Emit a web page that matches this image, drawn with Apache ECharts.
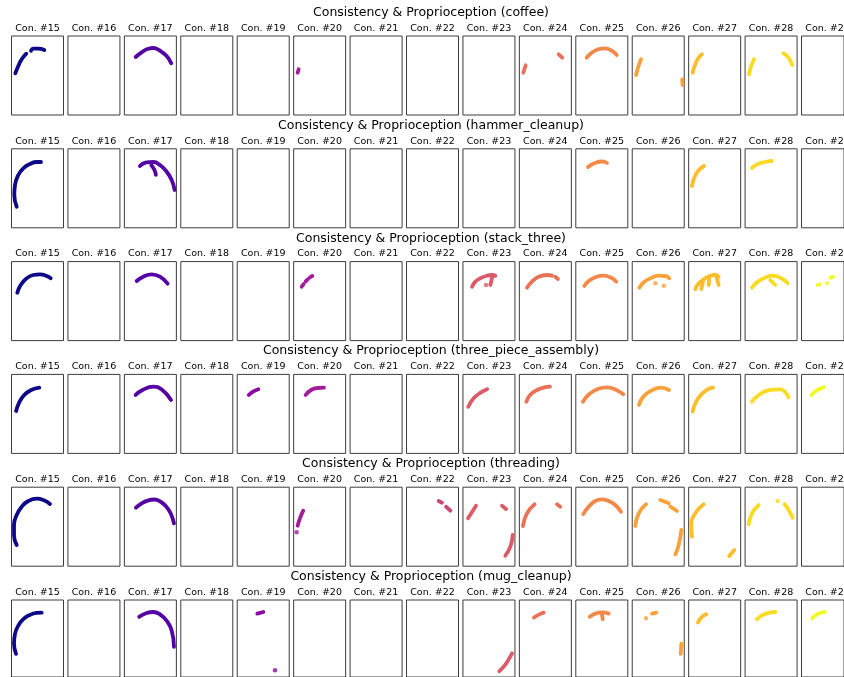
<!DOCTYPE html>
<html><head><meta charset="utf-8">
<script src="https://cdn.jsdelivr.net/npm/echarts@6/dist/echarts.min.js"></script>
<style>html,body{margin:0;padding:0;background:#fff}#chart{width:844px;height:677px}</style>
</head><body><div id="chart"></div>
<script>
const tasks = ['coffee','hammer_cleanup','stack_three','three_piece_assembly','threading','mug_cleanup'];
const conIds = [15,16,17,18,19,20,21,22,23,24,25,26,27,28,29];
const conColors = ['#0d0887','#330597','#5402a3','#7000a8','#8b0aa5','#a21d9a','#b83289','#cc4778','#db5c68','#e97158','#f48849','#fba139','#febd2a','#f8db24','#f0f921'];

// strokes: [con id, [[x, y], ...]]  (x: 0..52 across panel, y: 0..79 downward)
const coffee = [
 [15, [[3.8,37.3],[6.8,30],[10.2,23.3],[14.8,17.7]]],
 [15, [[19.5,14.7],[21.8,12.7],[26.8,12.7],[32.8,14]]],
 [17, [[11.3,21],[17.3,16.3],[23.9,12.7],[28.9,12],[35.6,14.7],[42.3,20],[46.9,27.3]]],
 [20, [[4,36.7],[5,33.3]]],
 [24, [[3.9,36.7],[6.3,29.3]]],
 [24, [[39.3,18.3],[42.9,21.7]]],
 [25, [[10.9,21.7],[15.9,16.7],[22.5,13.3],[29.2,12.3],[35.9,14.7],[40.9,19]]],
 [26, [[3.8,39],[6.1,30.7],[8.8,23.3]]],
 [26, [[50,43.3],[50.3,49]]],
 [27, [[4,36.7],[6.3,29],[9.6,22.3],[13.3,18.3]]],
 [28, [[3.9,38.3],[5.9,30.7],[8.9,23.3]]],
 [28, [[38.2,17.3],[43.2,21.3],[47.2,29]]]
];
const hammer = [
 [15, [[5.2,57.9],[2.8,46.2],[3.5,36.2],[6.8,26.2],[11.8,19.5],[18.5,15.2],[25.2,13.2],[29.5,13.2]]],
 [17, [[15.6,17.2],[22.3,13.5],[28.9,13.2],[35.6,16.2],[42.3,22.9],[47.3,31.2],[50.3,41.2]]],
 [17, [[27,16.5],[30,21],[31.5,26]]],
 [25, [[12.2,18.2],[19.2,14.2],[26.2,12.7],[31.2,14.2]]],
 [27, [[3.3,37.2],[6.3,27.2],[10.3,21.2],[15.3,17.2]]],
 [28, [[6.9,19.2],[12.9,15.2],[19.9,13.2],[26.9,12.2]]]
];
const stack = [
 [15, [[5.8,31.1],[9.2,23.4],[15.2,16.7],[21.8,13.4],[28.5,12.7],[35.2,14.4],[39.2,16.7]]],
 [17, [[12.3,19.4],[18.9,15.1],[27.3,12.7],[35.6,15.1],[43.3,22.1]]],
 [20, [[8,25.1],[10,22.5]]], [20, [[12,19.8],[14.2,17.6]]], [20, [[16.2,15.8],[18.6,14.4]]],
 [23, [[9.1,25.1],[12.4,20.1],[17.4,16.7],[24.1,14.1],[29.1,13.4],[32.4,14.1]]],
 [23, [[29.8,13.4],[27.4,23.4]]],
 [23, [[23.1,23.4]]],
 [24, [[7.6,26.1],[12.6,20.1],[19.3,15.1],[27.6,13.4],[32.6,14.1]]],
 [24, [[35.9,15.1],[38.6,17.4]]],
 [25, [[8.5,24.4],[12.9,19.4],[19.5,15.7],[27.9,14.1],[34.5,15.7],[40.5,20.1]]],
 [26, [[7.1,26.1],[11.5,20.7],[18.1,16.7],[26.5,14.1],[33.1,14.4],[37.1,16.7]]],
 [26, [[23.1,21.7]]], [26, [[31.5,24.1]]],
 [27, [[6.6,27.7],[9.3,22.7],[15,17.7],[21.6,14.1],[26.6,13.4],[30,15.1]]],
 [27, [[14.3,20.1],[12.6,27.4]]], [27, [[20.6,16.7],[20,23.4]]], [27, [[27.6,14.1],[30,23.4]]],
 [28, [[6.9,26.1],[11.9,20.7],[18.6,16.7],[26.9,14.1],[35.2,16.1],[42.6,21.7]]],
 [28, [[25.2,18.4],[30.2,23.4]]],
 [29, [[19.8,23.4],[22,22.9]]], [29, [[31.2,21.7]]], [29, [[35.5,16.1],[38.5,15.4]]]
];
const assembly = [
 [15, [[4.6,36.6],[7.3,28.9],[12.7,20.6],[19.7,15.6],[27.8,13.3]]],
 [17, [[11.2,20.6],[18.2,15.6],[29,12.3],[37.1,14.9],[46.7,25.6]]],
 [19, [[11.5,20.6],[15.8,17.3],[21.1,14.9]]],
 [20, [[12,20.6],[17.4,15.6],[23.8,13.6],[30.3,13.3]]],
 [23, [[5.3,32.3],[10.7,23.9],[17.7,18.3],[24.2,14.9]]],
 [24, [[7,27.3],[10.7,20.6],[17.7,15.6],[24.2,13.3],[30.6,12.3]]],
 [25, [[7.1,27.3],[13.5,19.6],[22.7,14.3],[31.3,12.9],[40.5,15.6],[47.5,19.9]]],
 [26, [[6.7,30.6],[11,22.3],[19,16.3],[28.7,13.3],[36.8,15.6]]],
 [27, [[4,37.3],[6.7,28.9],[12.1,20.6],[19,14.9],[24.4,13.3]]],
 [28, [[6.8,27.3],[13.8,20.6],[24.5,15.6],[35.3,14.9],[43.4,22.9]]],
 [29, [[12.3,20.6],[19.3,15.6],[27.3,12.9]]]
];
const threading = [
 [15, [[5.2,57.8],[2.5,47.8],[2.5,37.8],[5.2,27.8],[10.2,19.5],[16.8,13.8],[25.2,11.5],[31.8,12.8],[38.5,16.8]]],
 [17, [[11.6,20.5],[17.3,16.1],[24,13.2],[30,12.3],[36,14.3],[42,19.5],[46.5,26.5],[49.6,36.1]]],
 [20, [[9.6,23.5],[6.3,31.1],[4,38.5]]], [20, [[3,45.1]]],
 [22, [[32.2,13.8],[35.5,15.5]]], [22, [[39.5,19.5],[43.8,23.5]]],
 [23, [[5.1,31.1],[13.1,18.5]]], [23, [[39.1,18.5],[43.1,21.8]]], [23, [[49.8,47.8],[47.4,59.5],[42.4,68.5]]],
 [24, [[3.6,38.8],[7.6,26.1],[15.3,17.1]]], [24, [[37.6,17.1],[40.9,19.5]]],
 [25, [[7.5,26.8],[12.9,19.5],[19.5,13.8],[26.2,12.1],[32.9,13.8],[39.5,17.8],[45.2,24.5]]],
 [26, [[3.1,38.8],[6.5,26.1],[13.8,17.1]]], [26, [[28.1,12.8],[36.5,16.1]]], [26, [[38.1,19.5],[44.8,23.8]]], [26, [[49.1,42.8],[46.5,57.8],[43.1,67.1]]],
 [27, [[3.3,49.5],[2.6,37.8],[6.6,26.1],[15,17.1]]], [27, [[40.6,68.8],[45.6,62.8]]],
 [28, [[3.6,37.1],[6.9,26.1],[13.6,17.8]]], [28, [[32.6,13.8]]], [28, [[39.6,17.1],[43.6,22.8],[47.6,30.5]]]
];
const mug = [
 [15, [[4.5,55.3],[2.5,44.7],[3.5,34.7],[6.8,26.3],[11.8,19.7],[18.5,15.3],[25.2,13.3],[30.2,13]]],
 [17, [[14.9,17.3],[22.3,13.3],[28.9,12.3],[35.6,14.7],[42.3,21.3],[47.3,31.3],[49.6,48]]],
 [19, [[20.1,14],[26.1,12.3]]], [19, [[37.8,72]]],
 [23, [[36.4,73],[42.4,66.3],[46.4,59.7],[49.1,54.7]]],
 [24, [[14.6,18],[19.5,15],[24.3,13]]],
 [25, [[13.9,17.3],[19.5,14],[26.2,12.7],[32.9,14]]], [25, [[26.2,14.7],[26.9,19.7]]],
 [26, [[13.8,18.7]]], [26, [[19.8,14],[24.1,13]]], [26, [[49.1,44.7],[48.5,55.3]]],
 [27, [[9.3,23],[12.6,18],[17.6,14.7]]],
 [28, [[11.9,19.7],[16.9,15.7],[23.6,13.3],[30.2,12.3]]],
 [29, [[13.2,18.7],[18.8,14.7],[28.2,12.3]]]
];
const rows = [coffee, hammer, stack, assembly, threading, mug];

// layout
const PANEL_W = 52, PANEL_H = 79, COL_PITCH = 56.43, ROW_PITCH = 112.8;
const LEFT0 = 11.5, TOP0 = 36, TITLE_Y0 = 12.7, LABEL_Y0 = 28.3, TITLE_X = 431;
const X_MAX = 52, Y_MAX = 79;

const chart = echarts.init(document.getElementById('chart'), null, {renderer: 'canvas'});
const grid = [], xAxis = [], yAxis = [], series = [], graphic = [];
tasks.forEach((t, r) => {
  graphic.push({type: 'text', x: TITLE_X, y: TITLE_Y0 + r * ROW_PITCH, silent: true,
    style: {text: 'Consistency & Proprioception (' + t + ')', font: '12.5px "DejaVu Sans"', fill: '#000', align: 'center', verticalAlign: 'middle'}});
  conIds.forEach((id, c) => {
    const k = r * conIds.length + c;
    const left = LEFT0 + c * COL_PITCH, top = TOP0 + r * ROW_PITCH;
    grid.push({left: left, top: top, width: PANEL_W, height: PANEL_H, show: true, borderColor: '#3c3c3c', borderWidth: 1, backgroundColor: '#fff'});
    xAxis.push({gridIndex: k, type: 'value', min: 0, max: X_MAX, show: false});
    yAxis.push({gridIndex: k, type: 'value', min: 0, max: Y_MAX, inverse: true, show: false});
    graphic.push({type: 'text', x: left + PANEL_W / 2, y: LABEL_Y0 + r * ROW_PITCH, silent: true,
      style: {text: 'Con. #' + id, font: '9.5px "DejaVu Sans"', fill: '#000', align: 'center', verticalAlign: 'middle'}});
  });
  rows[r].forEach(([id, pts]) => {
    const c = conIds.indexOf(id);
    const k = r * conIds.length + c;
    if (pts.length === 1) {
      series.push({type: 'scatter', xAxisIndex: k, yAxisIndex: k, data: pts, symbolSize: 4.5, silent: true,
        itemStyle: {color: conColors[c]}});
    } else {
      series.push({type: 'line', xAxisIndex: k, yAxisIndex: k, data: pts, smooth: 0.5, symbol: 'none', showSymbol: false, silent: true, clip: true,
        lineStyle: {width: 3.8, color: conColors[c], cap: 'round', join: 'round'}});
    }
  });
});
chart.setOption({animation: false, grid: grid, xAxis: xAxis, yAxis: yAxis, series: series, graphic: graphic});
</script>
</body></html>
